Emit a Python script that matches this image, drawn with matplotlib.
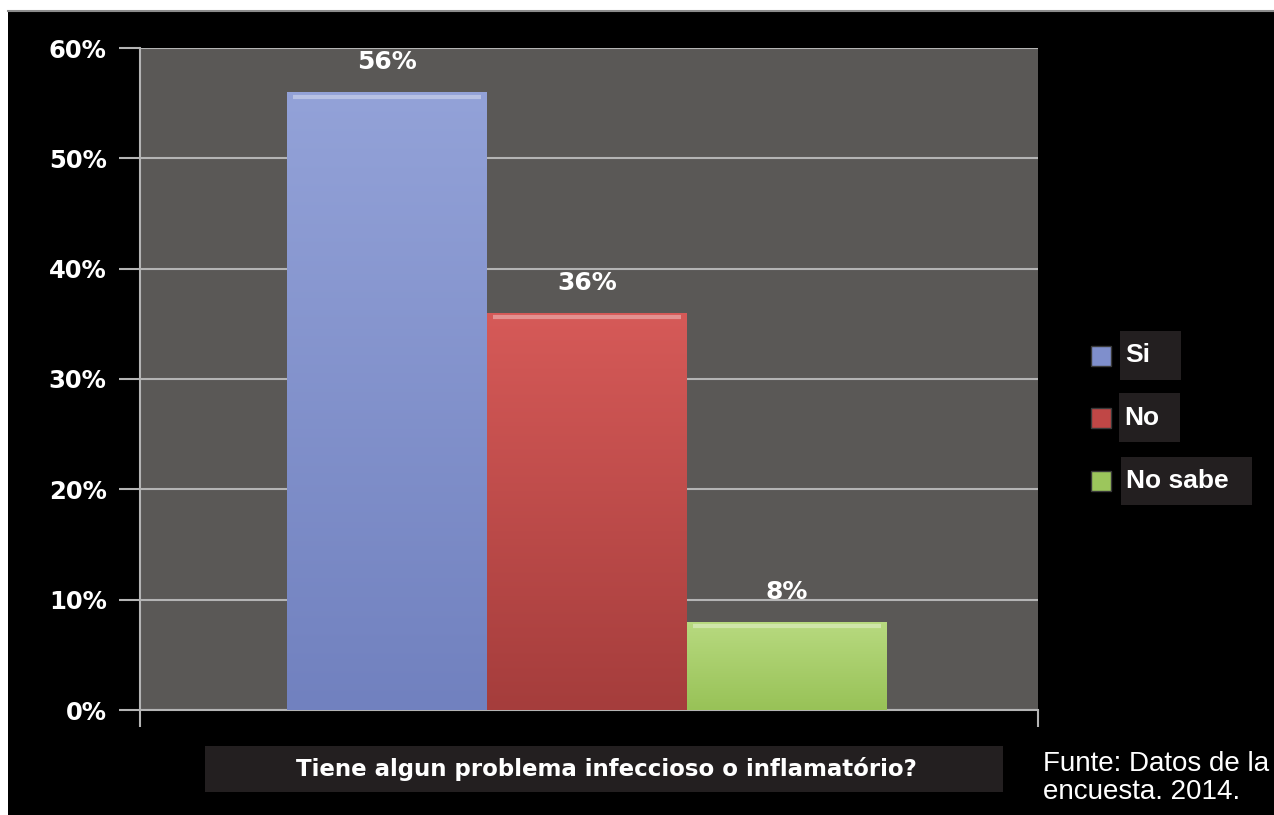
import numpy as np
import matplotlib
matplotlib.use("Agg")
import matplotlib.pyplot as plt
from matplotlib.patches import Rectangle
from matplotlib.colors import LinearSegmentedColormap

categories = ["Si", "No", "No sabe"]
values = [56, 36, 8]
value_labels = ["56%", "36%", "8%"]
yticks = [0, 10, 20, 30, 40, 50, 60]
ytick_labels = ["0%", "10%", "20%", "30%", "40%", "50%", "60%"]
question = "Tiene algun problema infeccioso o inflamatório?"
source = "Funte: Datos de la\nencuesta. 2014."

# top / bottom shades for each bar
bar_top = ["#93a2d8", "#d65a58", "#b8da80"]
bar_bot = ["#7181bf", "#a53d3c", "#98c257"]
legend_col = ["#7f8fcc", "#c04746", "#9cc65c"]

W, H = 1274, 815
fig = plt.figure(figsize=(W / 100, H / 100), dpi=100, facecolor="black")

def px(x0, y0, w, h):
    return [x0 / W, 1 - (y0 + h) / H, w / W, h / H]

# white frame strips along top and left edge
fig.patches.append(Rectangle((0, 1 - 10 / H), 1, 10 / H, transform=fig.transFigure,
                             facecolor="white", edgecolor="none", zorder=0))
fig.patches.append(Rectangle((0, 0), 8 / W, 1, transform=fig.transFigure,
                             facecolor="white", edgecolor="none", zorder=0))
fig.lines.append(plt.Line2D([8 / W, 1], [1 - 11 / H, 1 - 11 / H], transform=fig.transFigure,
                            color="#8c8c8c", lw=1.5))

ax = fig.add_axes(px(140, 48, 898, 662))
ax.set_facecolor("#5a5856")

x = np.arange(len(categories))
bars = ax.bar(x, values, width=1.0, color=bar_bot, edgecolor="none", zorder=3)

for i, b in enumerate(bars):
    cmap = LinearSegmentedColormap.from_list("g%d" % i, [bar_bot[i], bar_top[i]])
    grad = np.linspace(0, 1, 256).reshape(-1, 1)
    im = ax.imshow(grad, cmap=cmap, origin="lower", aspect="auto", zorder=3.5,
                   extent=[b.get_x(), b.get_x() + b.get_width(), 0, b.get_height()])
    im.set_clip_path(b)
    # light bevel along the top edge
    ax.plot([b.get_x() + 0.03, b.get_x() + b.get_width() - 0.03],
            [b.get_height() - 0.4, b.get_height() - 0.4],
            color="white", alpha=0.35, lw=3, zorder=4, solid_capstyle="butt")
    ax.annotate(value_labels[i], (b.get_x() + b.get_width() / 2, b.get_height()),
                xytext=(0, 30), textcoords="offset pixels", ha="center", va="center",
                color="white", fontsize=18, fontweight="bold", family="DejaVu Sans",
                zorder=5)

ax.set_xlim(-1.235, 3.255)
ax.set_ylim(0, 60)
ax.set_yticks(yticks)
ax.set_yticklabels(ytick_labels, color="white", fontsize=17.5, fontweight="bold",
                   family="DejaVu Sans")
ax.set_xticks([-1.235, 3.255])
ax.set_xticklabels(["", ""])
ax.yaxis.grid(True, color="#b4b4b4", lw=1.5, zorder=1)
ax.tick_params(axis="y", length=15, width=1.5, color="#b4b4b4", pad=9)
ax.tick_params(axis="x", length=12, width=1.5, color="#b4b4b4")
for s in ["top", "right"]:
    ax.spines[s].set_visible(False)
for s in ["left", "bottom"]:
    ax.spines[s].set_color("#b4b4b4")
    ax.spines[s].set_linewidth(1.5)

# legend drawn by hand: coloured square plus label on a dark box
leg_boxes = [(1120, 331, 61, 49), (1119, 393, 61, 49), (1121, 457, 131, 48)]
for i, (bx, by, bw, bh) in enumerate(leg_boxes):
    fig.patches.append(Rectangle(px(bx, by, bw, bh)[:2], bw / W, bh / H,
                                 transform=fig.transFigure, facecolor="#231f20",
                                 edgecolor="none"))
    sy = by + bh / 2 - 10
    fig.patches.append(Rectangle(px(1091, sy, 20, 20)[:2], 20 / W, 20 / H,
                                 transform=fig.transFigure, facecolor=legend_col[i],
                                 edgecolor="#3a3a3a", lw=1))
    fig.text((bx + 5) / W, 1 - (by + bh / 2) / H, categories[i], color="white",
             fontsize=19, fontweight="bold", family="Liberation Sans",
             ha="left", va="center")

# question box under the axis
fig.patches.append(Rectangle(px(205, 746, 798, 46)[:2], 798 / W, 46 / H,
                             transform=fig.transFigure, facecolor="#231f20",
                             edgecolor="none"))
fig.text(606 / W, 1 - 769 / H, question, color="white", fontsize=16.5,
         fontweight="bold", family="DejaVu Sans", ha="center", va="center")

fig.text(1043 / W, 1 - 778 / H, source, color="white", fontsize=20,
         family="Liberation Sans", ha="left", va="center", linespacing=1.12)

fig.savefig("out.png", dpi=100, facecolor="black")
